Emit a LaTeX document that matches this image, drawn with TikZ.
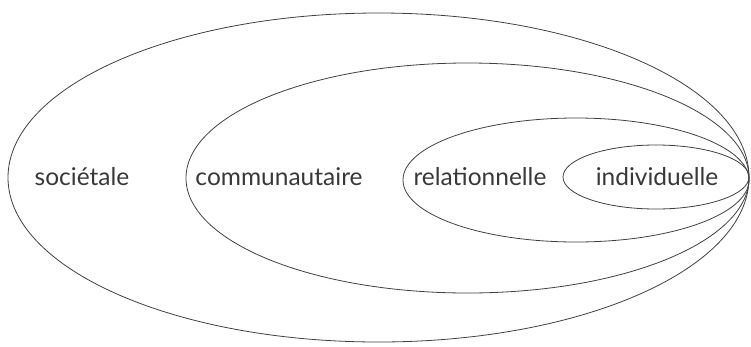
\documentclass[tikz,border=0pt]{standalone}
\usepackage{fontspec}
\setmainfont{Lato}
\begin{document}
\begin{tikzpicture}[x=1pt,y=-1pt,
  ring/.style={draw=black!75,line width=0.8pt},
  lbl/.style={text=black!78,font=\fontsize{24.5}{28}\selectfont,inner sep=0pt}]
\useasboundingbox (0,0) rectangle (751,346);
\draw[ring] (378.5,177.5) ellipse [x radius=370.5, y radius=164.5];
\draw[ring] (467.5,178) ellipse [x radius=281.5, y radius=115];
\draw[ring] (576,180) ellipse [x radius=173, y radius=62];
\draw[ring] (656,177) ellipse [x radius=93, y radius=32];
\node[lbl] (soc) at (82,177) {sociétale};
\node[lbl] (com) at (279,177) {communautaire};
\node[lbl] (rel) at (480,177) {relationnelle};
\node[lbl] (ind) at (657,177) {individuelle};
\end{tikzpicture}
\end{document}
